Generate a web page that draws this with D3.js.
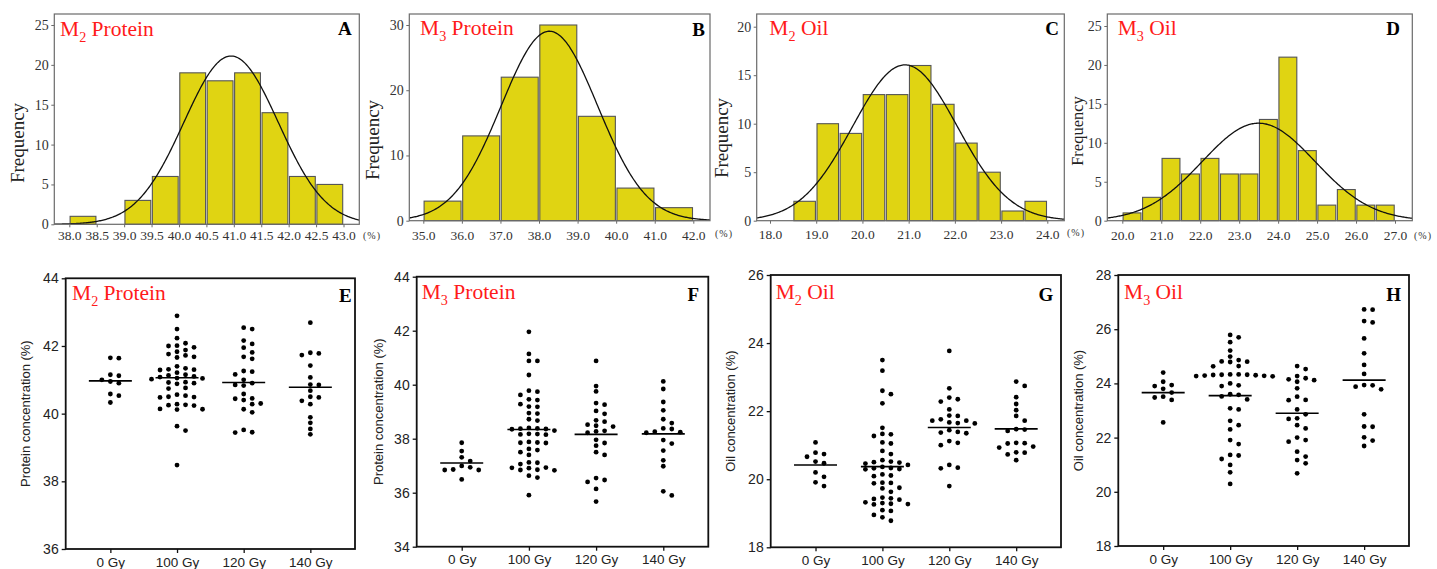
<!DOCTYPE html>
<html><head><meta charset="utf-8">
<script src="https://cdn.jsdelivr.net/npm/d3@7"></script>
<style>body{margin:0;background:#fff}</style>
</head><body>
<svg id="chart" width="1437" height="569"></svg>
<script>
// ================= DATA =================
// Histogram panels A-D
const histTitleMain = ["M", "M", "M", "M"];
const histTitleSub = ["2", "3", "2", "3"];
const histTitleRest = [" Protein", " Protein", " Oil", " Oil"];
const histLetters = ["A", "B", "C", "D"];

const histA_edges = [38.0, 38.5, 39.0, 39.5, 40.0, 40.5, 41.0, 41.5, 42.0, 42.5, 43.0];
const histA_counts = [1, 0, 3, 6, 19, 18, 19, 14, 6, 5];
const histA_fit = [40.95, 0.86];          // mean, sd of fitted normal curve
const histA_xTicks = [38.0, 38.5, 39.0, 39.5, 40.0, 40.5, 41.0, 41.5, 42.0, 42.5, 43.0];
const histA_yTicks = [0, 5, 10, 15, 20, 25];

const histB_edges = [35, 36, 37, 38, 39, 40, 41, 42];
const histB_counts = [3, 13, 22, 30, 16, 5, 2];
const histB_fit = [38.27, 1.25];
const histB_xTicks = [35, 36, 37, 38, 39, 40, 41, 42];
const histB_yTicks = [0, 10, 20, 30];

const histC_edges = [18.5, 19, 19.5, 20, 20.5, 21, 21.5, 22, 22.5, 23, 23.5, 24];
const histC_counts = [2, 10, 9, 13, 13, 16, 12, 8, 5, 1, 2];
const histC_fit = [20.92, 1.13];
const histC_xTicks = [18, 19, 20, 21, 22, 23, 24];
const histC_yTicks = [0, 5, 10, 15, 20];

const histD_edges = [20, 20.5, 21, 21.5, 22, 22.5, 23, 23.5, 24, 24.5, 25, 25.5, 26, 26.5, 27];
const histD_counts = [1, 3, 8, 6, 8, 6, 6, 13, 21, 9, 2, 4, 2, 2];
const histD_fit = [23.5, 1.45];
const histD_xTicks = [20, 21, 22, 23, 24, 25, 26, 27];
const histD_yTicks = [0, 5, 10, 15, 20, 25];

// Dot plot panels E-H
const doseCategories = ["0 Gy", "100 Gy", "120 Gy", "140 Gy"];
const dotLetters = ["E", "F", "G", "H"];
const dotYLabels = ["Protein concentration (%)", "Protein concentration (%)", "Oil concentration (%)", "Oil concentration (%)"];

const dotE_0 = [41.64, 41.65, 41.12, 41.15, 40.95, 40.90, 41.0, 40.53, 40.58, 40.33];
const dotE_100 = [42.89, 42.50, 42.23, 42.08, 42.01, 42.00, 41.96, 41.88, 41.83, 41.76, 41.72, 41.68, 41.66, 41.40, 41.34, 41.31, 41.30, 41.29, 41.21, 41.15, 41.13, 41.10, 41.08, 41.05, 41.04, 41.02, 40.93, 40.92, 40.90, 40.88, 40.76, 40.74, 40.56, 40.53, 40.50, 40.49, 40.48, 40.28, 40.26, 40.25, 40.24, 40.14, 40.13, 40.12, 39.63, 39.50, 38.48];
const dotE_120 = [42.16, 42.50, 42.54, 41.95, 42.06, 41.81, 41.68, 41.62, 41.24, 41.26, 41.16, 41.0, 40.90, 40.83, 40.85, 40.58, 40.45, 40.44, 40.40, 40.30, 40.28, 40.13, 40.04, 39.52, 39.44, 39.45];
const dotE_140 = [42.69, 41.80, 41.73, 41.78, 41.42, 41.07, 40.85, 40.86, 40.68, 40.38, 40.48, 40.50, 40.28, 39.89, 39.73, 39.55, 39.39];
const dotE_means = [40.97, 41.06, 40.92, 40.78];
const dotE_yTicks = [36, 38, 40, 42, 44];

const dotF_0 = [37.85, 37.54, 37.31, 37.17, 36.99, 36.94, 36.86, 36.84, 36.84, 36.49];
const dotF_100 = [41.96, 41.14, 40.88, 40.88, 40.36, 39.78, 39.74, 39.62, 39.46, 39.43, 39.28, 39.19, 39.18, 38.95, 38.93, 38.72, 38.67, 38.40, 38.38, 38.37, 38.36, 38.35, 38.30, 38.18, 38.17, 38.16, 38.15, 37.86, 37.85, 37.84, 37.88, 37.62, 37.58, 37.50, 37.40, 37.06, 37.12, 37.11, 36.93, 36.92, 36.91, 36.85, 36.84, 36.83, 36.63, 36.56, 35.91];
const dotF_120 = [40.88, 39.95, 39.75, 39.26, 39.32, 39.03, 38.92, 38.68, 38.63, 38.48, 38.45, 38.52, 38.29, 38.27, 38.22, 37.96, 37.74, 37.84, 37.50, 37.40, 36.54, 36.40, 36.47, 36.14, 35.67];
const dotF_140 = [40.12, 39.84, 39.36, 39.05, 38.72, 38.58, 38.38, 38.36, 38.26, 38.24, 38.22, 37.95, 37.82, 37.56, 37.20, 36.98, 36.05, 35.90];
const dotF_means = [37.1, 38.34, 38.16, 38.18];
const dotF_yTicks = [34, 36, 38, 40, 42, 44];

const dotG_0 = [21.08, 20.78, 20.74, 20.66, 20.52, 20.47, 20.20, 20.07, 19.91, 19.80];
const dotG_100 = [23.50, 23.19, 22.60, 22.50, 22.23, 21.51, 21.33, 21.32, 21.27, 21.08, 21.05, 20.83, 20.74, 20.56, 20.52, 20.50, 20.49, 20.46, 20.42, 20.36, 20.33, 20.32, 20.30, 20.29, 20.14, 20.11, 20.09, 19.90, 19.89, 19.88, 19.75, 19.73, 19.63, 19.46, 19.44, 19.42, 19.40, 19.32, 19.30, 19.28, 19.27, 19.26, 19.09, 19.07, 18.95, 18.88, 18.78];
const dotG_120 = [23.77, 22.67, 22.40, 22.35, 22.28, 22.05, 21.87, 21.86, 21.76, 21.72, 21.72, 21.67, 21.65, 21.64, 21.39, 21.37, 21.35, 21.44, 21.07, 21.12, 21.0, 20.42, 20.32, 20.34, 19.80];
const dotG_140 = [22.87, 22.74, 22.41, 22.21, 22.03, 21.86, 21.72, 21.47, 21.46, 21.42, 21.07, 21.06, 21.05, 20.96, 20.93, 20.79, 20.78, 20.73, 20.56];
const dotG_means = [20.42, 20.37, 21.52, 21.48];
const dotG_yTicks = [18, 20, 22, 24, 26];

const dotH_0 = [24.40, 24.06, 23.94, 23.90, 23.80, 23.66, 23.51, 23.48, 23.39, 22.56];
const dotH_100 = [25.79, 25.70, 25.52, 25.21, 24.99, 24.86, 24.81, 24.80, 24.79, 24.64, 24.63, 24.33, 24.32, 24.31, 24.30, 24.29, 24.28, 24.27, 24.26, 24.33, 24.32, 24.0, 23.93, 23.90, 23.60, 23.58, 23.52, 23.41, 23.08, 23.04, 22.62, 22.46, 22.30, 21.91, 21.76, 21.36, 21.34, 21.21, 20.99, 20.72, 20.29];
const dotH_120 = [24.64, 24.53, 24.27, 24.06, 24.19, 24.15, 24.12, 23.82, 23.51, 23.39, 23.38, 23.04, 22.86, 22.71, 22.69, 22.46, 22.34, 22.00, 21.85, 21.91, 21.48, 21.30, 21.17, 21.05, 20.68];
const dotH_140 = [26.73, 26.72, 26.30, 26.25, 25.66, 25.11, 24.68, 24.35, 23.94, 23.93, 23.78, 23.88, 22.86, 22.40, 22.41, 22.01, 21.89, 21.69];
const dotH_means = [23.66, 23.55, 22.9, 24.12];
const dotH_yTicks = [18, 20, 22, 24, 26, 28];

// ================= LAYOUT / STYLE =================
const SERIF = "'Liberation Serif','Times New Roman',serif";
const SANS = "'Liberation Sans',Arial,sans-serif";
const BAR_FILL = "#e0d412";
const BAR_STROKE = "#555";
const TITLE_RED = "#ff1a1a";

const histLayouts = [
  {x0:54.3, x1:359.3, y0:14, y1:224.3, x38:[38,69.3], xEnd:[43,343.5], yTop:[25,25], xGap:3, ylX:18, ylY:143, ylSize:19, pctX:363, pctY:238.5, tX:60, tY:35.5, lX:351.7, lY:35},
  {x0:409.3, x1:710, y0:14, y1:220.7, x38:[35,423.3], xEnd:[42,693.3], yTop:[30,25], xGap:7, ylX:373, ylY:140, ylSize:19, pctX:715, pctY:237, tX:420, tY:35, lX:705, lY:36},
  {x0:756.7, x1:1064.3, y0:14, y1:220.7, x38:[18,770], xEnd:[24,1047.3], yTop:[20,26.7], xGap:6, ylX:722, ylY:138, ylSize:19, pctX:1067, pctY:236, tX:769.3, tY:35, lX:1059, lY:35},
  {x0:1107.3, x1:1412.3, y0:14, y1:220.7, x38:[20,1122.3], xEnd:[27,1395], yTop:[25,26], xGap:7, ylX:1077, ylY:131, ylSize:16.5, pctX:1414, pctY:238.5, tX:1117.7, tY:35, lX:1400, lY:35}
];

const dotLayouts = [
  {x0:65.7, x1:355, y0:278.3, y1:549, ylX:25, tX:72, tY:300, lX:351.7, lY:301.7},
  {x0:416.7, x1:708.3, y0:276.7, y1:546.7, ylX:378, tX:421.7, tY:299.3, lX:699, lY:301},
  {x0:770.7, x1:1061, y0:275, y1:547.3, ylX:730, tX:775.7, tY:299, lX:1053.3, lY:301},
  {x0:1118.3, x1:1409, y0:275, y1:546, ylX:1078, tX:1124, tY:299, lX:1401, lY:301}
];

const svg = d3.select("#chart");
svg.append("rect").attr("width",1437).attr("height",569).attr("fill","#fff");

function drawTitle(x, y, main, sub, rest, size) {
  const t = svg.append("text").attr("x", x).attr("y", y)
    .attr("fill", TITLE_RED).attr("font-family", SERIF).attr("font-size", size);
  t.append("tspan").text(main);
  t.append("tspan").attr("font-size", size * 0.66).attr("dy", size * 0.28).text(sub);
  t.append("tspan").attr("dy", -size * 0.28).text(rest.replace(" ", "\u00A0"));
}

// ================= HISTOGRAMS =================
const histData = [
  [histA_edges, histA_counts, histA_fit, histA_xTicks, histA_yTicks],
  [histB_edges, histB_counts, histB_fit, histB_xTicks, histB_yTicks],
  [histC_edges, histC_counts, histC_fit, histC_xTicks, histC_yTicks],
  [histD_edges, histD_counts, histD_fit, histD_xTicks, histD_yTicks]
];

histData.forEach(([edges, counts, fit, xTicks, yTicks], i) => {
  const L = histLayouts[i];
  const xs0 = d3.scaleLinear().domain([L.x38[0], L.xEnd[0]]).range([L.x38[1], L.xEnd[1]]);
  const x = d3.scaleLinear().domain([xs0.invert(L.x0), xs0.invert(L.x1)]).range([L.x0, L.x1]);
  const ys0 = d3.scaleLinear().domain([0, L.yTop[0]]).range([L.y1, L.yTop[1]]);
  const y = d3.scaleLinear().domain([0, ys0.invert(L.y0)]).range([L.y1, L.y0]);

  const g = svg.append("g");
  const clipId = "clip" + i;
  svg.append("clipPath").attr("id", clipId).append("rect")
    .attr("x", L.x0).attr("y", L.y0).attr("width", L.x1 - L.x0).attr("height", L.y1 - L.y0);

  const bins = counts.map((c, k) => ({x0: edges[k], x1: edges[k + 1], c}));
  g.selectAll("rect.bar").data(bins.filter(b => b.c > 0)).join("rect")
    .attr("class", "bar")
    .attr("x", b => x(b.x0) + 0.8)
    .attr("width", b => x(b.x1) - x(b.x0) - 1.6)
    .attr("y", b => y(b.c))
    .attr("height", b => y(0) - y(b.c))
    .attr("fill", BAR_FILL).attr("stroke", BAR_STROKE).attr("stroke-width", 1.1);

  const N = d3.sum(counts), bw = edges[1] - edges[0];
  const [mu, sd] = fit;
  const pts = d3.range(0, 301).map(k => {
    const xv = x.domain()[0] + (x.domain()[1] - x.domain()[0]) * k / 300;
    const z = (xv - mu) / sd;
    return [xv, N * bw * Math.exp(-0.5 * z * z) / (sd * Math.sqrt(2 * Math.PI))];
  });
  g.append("path").datum(pts)
    .attr("clip-path", `url(#${clipId})`)
    .attr("d", d3.line().x(d => x(d[0])).y(d => y(d[1])))
    .attr("fill", "none").attr("stroke", "#111").attr("stroke-width", 1.3);

  g.append("rect").attr("x", L.x0).attr("y", L.y0).attr("width", L.x1 - L.x0).attr("height", L.y1 - L.y0)
    .attr("fill", "none").attr("stroke", "#6a6a6a").attr("stroke-width", 1.2);

  const ya = g.append("g").attr("transform", `translate(${L.x0},0)`)
    .call(d3.axisLeft(y).tickValues(yTicks).tickSize(3).tickPadding(2.5).tickFormat(d3.format("d")));
  ya.select(".domain").remove();
  ya.selectAll("line").attr("stroke", "#6a6a6a");
  ya.selectAll("text").attr("font-family", SERIF).attr("font-size", 14).attr("fill", "#333");

  const xa = g.append("g").attr("transform", `translate(0,${L.y1})`)
    .call(d3.axisBottom(x).tickValues(xTicks).tickSize(3).tickPadding(L.xGap).tickFormat(d3.format(".1f")));
  xa.select(".domain").remove();
  xa.selectAll("line").attr("stroke", "#6a6a6a");
  xa.selectAll("text").attr("font-family", SERIF).attr("font-size", 13.5).attr("fill", "#333");

  svg.append("text").attr("x", L.pctX).attr("y", L.pctY).text("(%)")
    .attr("font-family", SERIF).attr("font-size", 10).attr("letter-spacing", 1).attr("fill", "#333");

  svg.append("text").attr("transform", `translate(${L.ylX + 6},${L.ylY}) rotate(-90)`)
    .attr("text-anchor", "middle").attr("font-family", SERIF).attr("font-size", L.ylSize)
    .attr("fill", "#222").text("Frequency");

  drawTitle(L.tX, L.tY, histTitleMain[i], histTitleSub[i], histTitleRest[i], 21.5);
  svg.append("text").attr("x", L.lX).attr("y", L.lY).attr("text-anchor", "end")
    .attr("font-family", SERIF).attr("font-weight", "bold").attr("font-size", 19).attr("fill", "#000")
    .text(histLetters[i]);
});

// ================= DOT PLOTS =================
const dotData = [
  [[dotE_0, dotE_100, dotE_120, dotE_140], dotE_means, dotE_yTicks],
  [[dotF_0, dotF_100, dotF_120, dotF_140], dotF_means, dotF_yTicks],
  [[dotG_0, dotG_100, dotG_120, dotG_140], dotG_means, dotG_yTicks],
  [[dotH_0, dotH_100, dotH_120, dotH_140], dotH_means, dotH_yTicks]
];

const DOT_R = 2.4, COL_STEP = 8.5, MIN_DY = 5.4;

function swarm(vals, y, cx) {
  const placed = [];
  const ys = vals.map(v => y(v)).sort((a, b) => a - b);
  return ys.map(py => {
    for (let k = 0; k < 60; k++) {
      const col = k === 0 ? 0 : (k % 2 === 1 ? (k + 1) / 2 : -k / 2);
      if (!placed.some(p => p.col === col && Math.abs(p.y - py) < MIN_DY)) {
        placed.push({col, y: py});
        return {x: cx + col * COL_STEP, y: py};
      }
    }
  });
}

dotData.forEach(([groups, means, yTicks], i) => {
  const L = dotLayouts[i];
  const x = d3.scalePoint().domain(doseCategories).range([L.x0, L.x1]).padding(0.67);
  const y = d3.scaleLinear().domain(d3.extent(yTicks)).range([L.y1, L.y0]);
  const g = svg.append("g");

  groups.forEach((vals, gi) => {
    const cx = x(doseCategories[gi]);
    g.selectAll(null).data(swarm(vals, y, cx)).join("circle")
      .attr("cx", d => d.x).attr("cy", d => d.y).attr("r", DOT_R).attr("fill", "#000");
    g.append("line").attr("x1", cx - 21.5).attr("x2", cx + 21.5)
      .attr("y1", y(means[gi])).attr("y2", y(means[gi]))
      .attr("stroke", "#000").attr("stroke-width", 1.6);
  });

  g.append("rect").attr("x", L.x0).attr("y", L.y0).attr("width", L.x1 - L.x0).attr("height", L.y1 - L.y0)
    .attr("fill", "none").attr("stroke", "#111").attr("stroke-width", 1.8);

  const ya = g.append("g").attr("transform", `translate(${L.x0},0)`)
    .call(d3.axisLeft(y).tickValues(yTicks).tickSize(4).tickPadding(3).tickFormat(d3.format("d")));
  ya.select(".domain").remove();
  ya.selectAll("line").attr("stroke", "#111").attr("stroke-width", 1.3);
  ya.selectAll("text").attr("font-family", SANS).attr("font-size", 14).attr("fill", "#222");

  const xa = g.append("g").attr("transform", `translate(0,${L.y1})`)
    .call(d3.axisBottom(x).tickSize(4).tickPadding(4));
  xa.select(".domain").remove();
  xa.selectAll("line").attr("stroke", "#111").attr("stroke-width", 1.3);
  xa.selectAll("text").attr("font-family", SANS).attr("font-size", 13.5).attr("fill", "#222");

  svg.append("text").attr("transform", `translate(${L.ylX + 5},${(L.y0 + L.y1) / 2}) rotate(-90)`)
    .attr("text-anchor", "middle").attr("font-family", SANS).attr("font-size", 13)
    .attr("fill", "#222").text(dotYLabels[i]);

  drawTitle(L.tX, L.tY, histTitleMain[i], histTitleSub[i], histTitleRest[i], 21.5);
  svg.append("text").attr("x", L.lX).attr("y", L.lY).attr("text-anchor", "end")
    .attr("font-family", SERIF).attr("font-weight", "bold").attr("font-size", 19).attr("fill", "#000")
    .text(dotLetters[i]);
});
</script>
</body></html>
